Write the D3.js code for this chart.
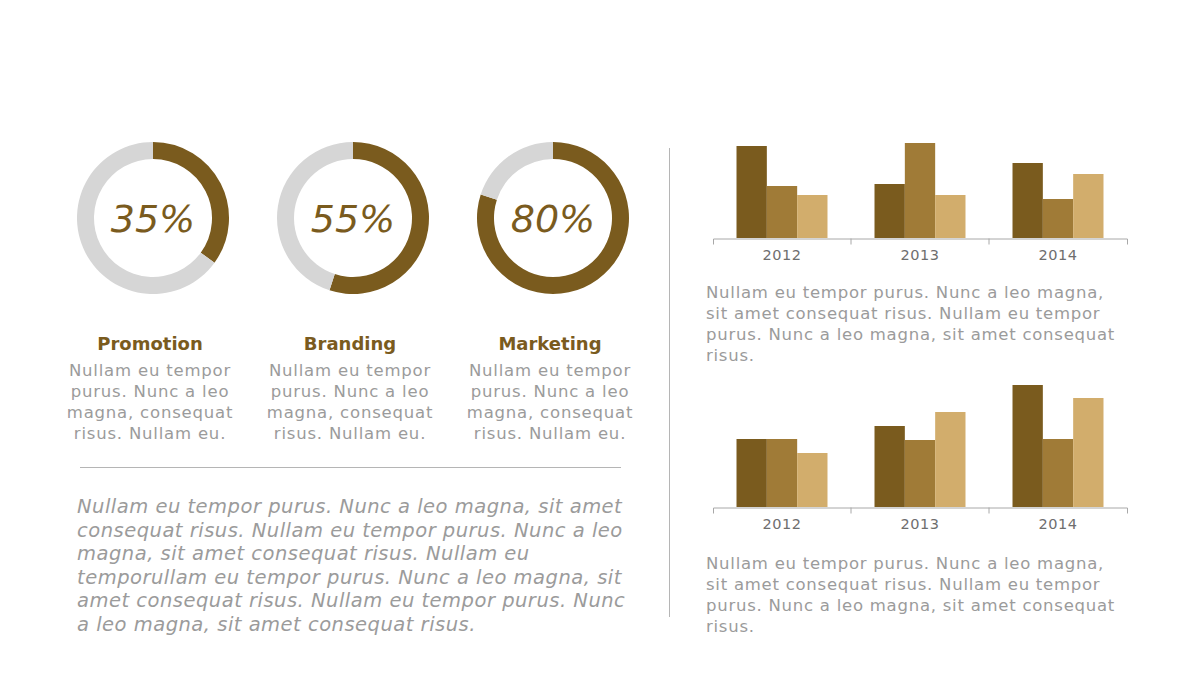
<!DOCTYPE html>
<html><head><meta charset="utf-8">
<script src="https://cdn.jsdelivr.net/npm/d3@7"></script>
<style>
html,body{margin:0;padding:0;background:#fff;}
svg{display:block;}
</style></head>
<body>
<svg id="c" width="1200" height="675"></svg>
<script>
// ---------- data ----------
const donutLabels = ["Promotion", "Branding", "Marketing"];
const donutValues = [35, 55, 80];
const donutBody = ["Nullam eu tempor", "purus. Nunc a leo", "magna, consequat", "risus. Nullam eu."];

const years = ["2012", "2013", "2014"];
const seriesNames = ["A", "B", "C"];
const chart1Values = [
  [9.2, 5.2, 4.3],
  [5.4, 9.5, 4.3],
  [7.5, 3.9, 6.4]
];
const chart2Values = [
  [6.8, 6.8, 5.4],
  [8.1, 6.7, 9.5],
  [12.2, 6.8, 10.9]
];
const rightText = [
  "Nullam eu tempor purus. Nunc a leo magna,",
  "sit amet consequat risus. Nullam eu tempor",
  "purus. Nunc a leo magna, sit amet consequat",
  "risus."
];
const paragraph = [
  "Nullam eu tempor purus. Nunc a leo magna, sit amet",
  "consequat risus. Nullam eu tempor purus. Nunc a leo",
  "magna, sit amet consequat risus. Nullam eu",
  "temporullam eu tempor purus. Nunc a leo magna, sit",
  "amet consequat risus. Nullam eu tempor purus. Nunc",
  "a leo magna, sit amet consequat risus."
];

// ---------- style ----------
const brown = "#7a5b1e";
const grayRing = "#d6d6d6";
const barColors = ["#7a5b1e", "#a07b37", "#d2ad6c"];
const textGray = "#9b9b9b";
const font = "'DejaVu Sans', 'Open Sans', sans-serif";

const svg = d3.select("#c");

// ---------- donuts ----------
const donutX = d3.scalePoint().domain(donutLabels).range([153, 553]);
const arc = d3.arc().innerRadius(59).outerRadius(76);
const pie = d3.pie().sort(null).value(d => d);

donutLabels.forEach((lab, i) => {
  const cx = donutX(lab), cy = 218;
  const g = svg.append("g").attr("transform", `translate(${cx},${cy})`);
  const v = donutValues[i];
  g.selectAll("path").data(pie([v, 100 - v])).join("path")
    .attr("d", arc)
    .attr("fill", (d, j) => j === 0 ? brown : grayRing);
  g.append("text").attr("text-anchor", "middle").attr("y", 14)
    .attr("font-family", font).attr("font-style", "italic").attr("font-size", 38)
    .attr("fill", brown).text(v + "%");
  svg.append("text").attr("x", cx - 3).attr("y", 350).attr("text-anchor", "middle")
    .attr("font-family", font).attr("font-weight", 700).attr("font-size", 18)
    .attr("fill", brown).text(lab);
  donutBody.forEach((t, k) => {
    svg.append("text").attr("x", cx - 3).attr("y", 376 + k * 21).attr("text-anchor", "middle")
      .attr("font-family", font).attr("font-size", 16.5).attr("letter-spacing", 0.8)
      .attr("fill", textGray).text(t);
  });
});

// separator lines
svg.append("line").attr("x1", 80).attr("x2", 621).attr("y1", 467.5).attr("y2", 467.5)
  .attr("stroke", "#b5b5b5").attr("stroke-width", 1);
svg.append("line").attr("x1", 669.5).attr("x2", 669.5).attr("y1", 148).attr("y2", 617)
  .attr("stroke", "#b5b5b5").attr("stroke-width", 1);

// paragraph
paragraph.forEach((t, k) => {
  svg.append("text").attr("x", 77).attr("y", 513 + k * 23.6)
    .attr("font-family", font).attr("font-style", "italic").attr("font-size", 19.5)
    .attr("letter-spacing", 0.5).attr("fill", textGray).text(t);
});

// ---------- bar charts ----------
function barChart(values, baseY, pxPerUnit, textY) {
  const x0 = d3.scaleBand().domain(years).range([713, 1127]).paddingInner(0).paddingOuter(0);
  const x1 = d3.scaleBand().domain(seriesNames).range([0, x0.bandwidth()]).paddingInner(0).paddingOuter(0.775);
  const maxV = d3.max(values.flat());
  const y = d3.scaleLinear().domain([0, maxV]).range([baseY, baseY - maxV * pxPerUnit]);
  const g = svg.append("g");
  years.forEach((yr, i) => {
    g.append("g").attr("transform", `translate(${x0(yr)},0)`)
      .selectAll("rect").data(values[i]).join("rect")
      .attr("x", (d, j) => x1(seriesNames[j]))
      .attr("width", x1.bandwidth())
      .attr("y", d => y(d))
      .attr("height", d => baseY - y(d))
      .attr("fill", (d, j) => barColors[j]);
  });
  // axis line with boundary ticks
  const axis = d3.axisBottom(x0).tickSizeInner(0).tickSizeOuter(6).tickFormat("");
  const ag = svg.append("g").attr("transform", `translate(0,${baseY + 0.5})`).call(axis);
  ag.select(".domain").attr("stroke", "#a8a8a8");
  ag.selectAll(".tick line").remove();
  years.slice(1).forEach(yr => {
    ag.append("line").attr("x1", x0(yr)).attr("x2", x0(yr)).attr("y1", 0).attr("y2", 6)
      .attr("stroke", "#a8a8a8");
  });
  years.forEach(yr => {
    svg.append("text").attr("x", x0(yr) + x0.bandwidth() / 2).attr("y", baseY + 22)
      .attr("text-anchor", "middle").attr("font-family", font).attr("font-size", 14.5)
      .attr("letter-spacing", 0.5).attr("fill", "#6e6e6e").text(yr);
  });
  rightText.forEach((t, k) => {
    svg.append("text").attr("x", 706).attr("y", textY + k * 21)
      .attr("font-family", font).attr("font-size", 16.5).attr("letter-spacing", 0.75)
      .attr("fill", textGray).text(t);
  });
}
barChart(chart1Values, 238, 10, 298);
barChart(chart2Values, 507, 10, 569);
</script>
</body></html>
